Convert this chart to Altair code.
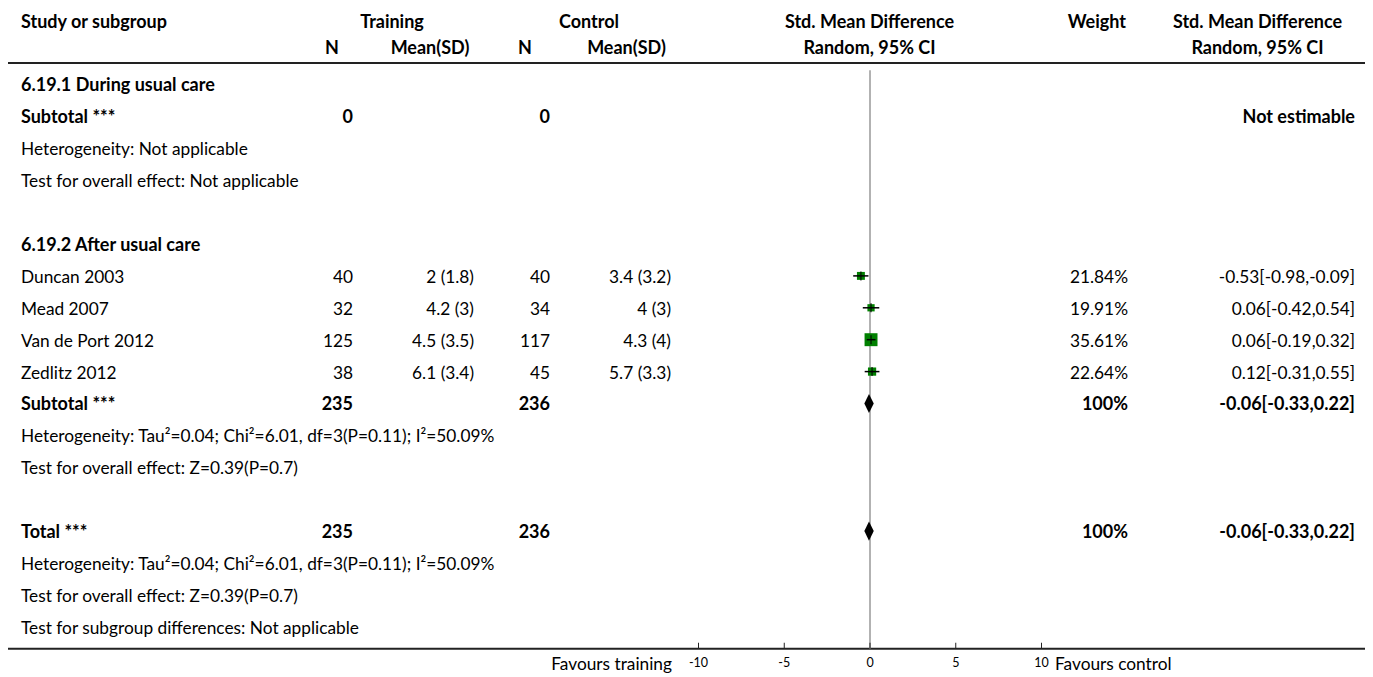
import altair as alt
import pandas as pd

# ---------------- data ----------------
left_labels = [
    "6.19.1 During usual care",
    "Subtotal ***",
    "Heterogeneity: Not applicable",
    "Test for overall effect: Not applicable",
    "6.19.2 After usual care",
    "Duncan 2003",
    "Mead 2007",
    "Van de Port 2012",
    "Zedlitz 2012",
    "Subtotal ***",
    "Heterogeneity: Tau\u00b2=0.04; Chi\u00b2=6.01, df=3(P=0.11); I\u00b2=50.09%",
    "Test for overall effect: Z=0.39(P=0.7)",
    "Total ***",
    "Heterogeneity: Tau\u00b2=0.04; Chi\u00b2=6.01, df=3(P=0.11); I\u00b2=50.09%",
    "Test for overall effect: Z=0.39(P=0.7)",
    "Test for subgroup differences: Not applicable",
]
left_rows = [0, 1, 2, 3, 5, 6, 7, 8, 9, 10, 11, 12, 14, 15, 16, 17]
left_bold = [1, 1, 0, 0, 1, 0, 0, 0, 0, 1, 0, 0, 1, 0, 0, 0]

study_rows = [6, 7, 8, 9]
t_n = ["40", "32", "125", "38"]
t_msd = ["2 (1.8)", "4.2 (3)", "4.5 (3.5)", "6.1 (3.4)"]
c_n = ["40", "34", "117", "45"]
c_msd = ["3.4 (3.2)", "4 (3)", "4.3 (4)", "5.7 (3.3)"]
weights = [21.84, 19.91, 35.61, 22.64]
weight_txt = ["21.84%", "19.91%", "35.61%", "22.64%"]
smd = [-0.53, 0.06, 0.06, 0.12]
smd_lo = [-0.98, -0.42, -0.19, -0.31]
smd_hi = [-0.09, 0.54, 0.32, 0.55]
ci_txt = ["-0.53[-0.98,-0.09]", "0.06[-0.42,0.54]", "0.06[-0.19,0.32]", "0.12[-0.31,0.55]"]

total_rows = [1, 10, 14]
total_t_n = ["0", "235", "235"]
total_c_n = ["0", "236", "236"]
total_weight = ["", "100%", "100%"]
total_ci = ["Not estimable", "-0.06[-0.33,0.22]", "-0.06[-0.33,0.22]"]

diamond_rows = [10, 14]
diamond_est = [-0.06, -0.06]
diamond_lo = [-0.33, -0.33]
diamond_hi = [0.22, 0.22]

axis_ticks = [-10, -5, 0, 5, 10]

# ---------------- layout ----------------
FONT = "Lato"
FS = 17.3
FSB = 18
DY = 2
W, H = 1357, 669
ROW_TOP, ROW_BOT = -2.398, 18.574
HDR1, HDR2 = -1.99, -1.18
TOPLINE, BOTLINE = -0.67, 17.69

yscale = alt.Scale(domain=[ROW_TOP, ROW_BOT], reverse=True, nice=False, zero=False)
xscale = alt.Scale(domain=[-10, 10], range=[690.5, 1033.5], nice=False, zero=False)


def Y(field="row"):
    return alt.Y(f"{field}:Q", scale=yscale, axis=None)


def text_layer(df, field, x, align="left", bold=False, size=None):
    if size is None:
        size = FSB if bold else FS
    return alt.Chart(df).mark_text(
        align=align, baseline="middle", font=FONT, fontSize=size, dy=DY,
        fontWeight="bold" if bold else "normal", color="black",
    ).encode(x=alt.value(x), y=Y(), text=alt.Text(f"{field}:N"))


left_df = pd.DataFrame({"row": left_rows, "label": left_labels, "bold": left_bold})
study_df = pd.DataFrame({
    "row": study_rows, "t_n": t_n, "t_msd": t_msd, "c_n": c_n, "c_msd": c_msd,
    "w": weights, "wt": weight_txt, "smd": smd, "lo": smd_lo, "hi": smd_hi, "ci": ci_txt,
})
tot_df = pd.DataFrame({"row": total_rows, "t_n": total_t_n, "c_n": total_c_n,
                       "wt": total_weight, "ci": total_ci})

hdr = pd.DataFrame({
    "row": [HDR1, HDR1, HDR1, HDR1, HDR1, HDR1,
            HDR2, HDR2, HDR2, HDR2, HDR2, HDR2],
    "label": ["Study or subgroup", "Training", "Control", "Std. Mean Difference", "Weight",
              "Std. Mean Difference", "N", "Mean(SD)", "N", "Mean(SD)", "Random, 95% CI",
              "Random, 95% CI"],
})
hdr_x = [13, 384, 581, 861.5, 1118, 1249.5, 324, 422, 517, 618.5, 861.5, 1249.5]
hdr_align = ["left", "center", "center", "center", "right", "center",
             "center", "center", "center", "center", "center", "center"]

layers = []

# header texts
for i in range(len(hdr)):
    layers.append(text_layer(hdr.iloc[[i]], "label", hdr_x[i], hdr_align[i], bold=True))

# horizontal lines
lines_df = pd.DataFrame({"row": [TOPLINE, BOTLINE]})
layers.append(alt.Chart(lines_df).mark_rule(color="#222", strokeWidth=2).encode(
    x=alt.value(0), x2=alt.value(W), y=Y()))

# left labels
layers.append(text_layer(left_df[left_df.bold == 1], "label", 13, "left", bold=True))
layers.append(text_layer(left_df[left_df.bold == 0], "label", 13, "left", bold=False))

# study columns
layers.append(text_layer(study_df, "t_n", 345, "right"))
layers.append(text_layer(study_df, "t_msd", 466, "right"))
layers.append(text_layer(study_df, "c_n", 542, "right"))
layers.append(text_layer(study_df, "c_msd", 663, "right"))
layers.append(text_layer(study_df, "wt", 1120, "right"))
layers.append(text_layer(study_df, "ci", 1347, "right"))

# totals
layers.append(text_layer(tot_df, "t_n", 345, "right", bold=True))
layers.append(text_layer(tot_df, "c_n", 542, "right", bold=True))
layers.append(text_layer(tot_df, "wt", 1120, "right", bold=True))
layers.append(text_layer(tot_df, "ci", 1347, "right", bold=True))

# zero line
zero_df = pd.DataFrame({"x": [0], "y1": [-0.45], "y2": [BOTLINE]})
layers.append(alt.Chart(zero_df).mark_rule(color="#999", strokeWidth=1.5).encode(
    x=alt.X("x:Q", scale=xscale, axis=None), y=Y("y1"), y2="y2:Q"))

# study squares, CI lines, centre ticks
layers.append(alt.Chart(study_df).mark_square(color="#008000", opacity=1).encode(
    x=alt.X("smd:Q", scale=xscale, axis=None), y=Y(),
    size=alt.Size("w:Q", scale=alt.Scale(type="pow", exponent=2, domain=[0, 33], range=[0, 144]),
                  legend=None)))
layers.append(alt.Chart(study_df).mark_rule(color="black", strokeWidth=1.5).encode(
    x=alt.X("lo:Q", scale=xscale, axis=None), x2="hi:Q", y=Y()))
layers.append(alt.Chart(study_df).mark_tick(color="black", orient="vertical", size=9, thickness=1.5).encode(
    x=alt.X("smd:Q", scale=xscale, axis=None), y=Y()))

# diamonds
HALF = 0.3
dia_pts = []
for k, (r, e, lo, hi) in enumerate(zip(diamond_rows, diamond_est, diamond_lo, diamond_hi)):
    dia_pts += [
        {"d": k, "x": lo, "ya": r, "yb": r},
        {"d": k, "x": e, "ya": r - HALF, "yb": r + HALF},
        {"d": k, "x": hi, "ya": r, "yb": r},
    ]
dia_df = pd.DataFrame(dia_pts)
layers.append(alt.Chart(dia_df).mark_area(color="black", orient="vertical", opacity=1).encode(
    x=alt.X("x:Q", scale=xscale, axis=None), y=Y("ya"), y2="yb:Q", detail="d:N"))

# axis ticks and labels
tick_df = pd.DataFrame({"t": axis_ticks, "y1": [BOTLINE - 0.19] * len(axis_ticks),
                        "y2": [BOTLINE] * len(axis_ticks), "lab": [str(t) for t in axis_ticks],
                        "row": [18.12] * len(axis_ticks)})
layers.append(alt.Chart(tick_df).mark_rule(color="#222", strokeWidth=1).encode(
    x=alt.X("t:Q", scale=xscale, axis=None), y=Y("y1"), y2="y2:Q"))
layers.append(alt.Chart(tick_df).mark_text(font=FONT, fontSize=12.5, color="black",
                                           baseline="middle", align="center").encode(
    x=alt.X("t:Q", scale=xscale, axis=None), y=Y(), text="lab:N"))

fav_df = pd.DataFrame({"row": [18.15, 18.15], "lab": ["Favours training", "Favours control"]})
layers.append(text_layer(fav_df.iloc[[0]], "lab", 664, "right"))
layers.append(text_layer(fav_df.iloc[[1]], "lab", 1047, "left"))

chart = alt.layer(*layers).properties(
    width=W, height=H, padding=0, autosize="none"
).configure_view(stroke=None)

chart.save("out.html", embed_options={"renderer": "svg", "actions": False})
